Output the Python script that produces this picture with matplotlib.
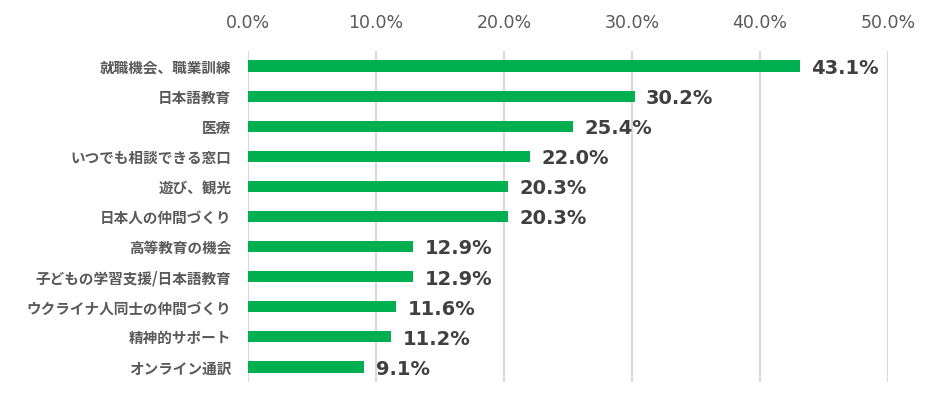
import matplotlib.pyplot as plt
from matplotlib.ticker import FuncFormatter

plt.rcParams['font.family'] = ['Noto Sans CJK JP', 'DejaVu Sans']

categories = ["就職機会、職業訓練", "日本語教育", "医療", "いつでも相談できる窓口", "遊び、観光",
              "日本人の仲間づくり", "高等教育の機会", "子どもの学習支援/日本語教育",
              "ウクライナ人同士の仲間づくり", "精神的サポート", "オンライン通訳"]
values = [43.1, 30.2, 25.4, 22.0, 20.3, 20.3, 12.9, 12.9, 11.6, 11.2, 9.1]
xticks = [0, 10, 20, 30, 40, 50]

fig = plt.figure(figsize=(9.41, 4.05), dpi=100)
ax = fig.add_axes([248 / 941, 23 / 405, 640 / 941, 331 / 405])

y = list(range(len(categories)))
ax.barh(y, values, height=0.37, color="#00B050", zorder=3)
ax.set_ylim(len(categories) - 0.5, -0.5)
ax.set_xlim(0, 50)
ax.set_xticks(xticks)
ax.xaxis.set_major_formatter(FuncFormatter(lambda v, p: f"{v:.1f}%"))
ax.xaxis.tick_top()
ax.tick_params(axis="x", length=0, pad=14, labelsize=12.5, labelcolor="#595959")
for lbl in ax.get_xticklabels():
    lbl.set_family(["DejaVu Sans"])
ax.tick_params(axis="y", length=0, pad=12)
ax.set_yticks(y)
ax.set_yticklabels(categories, fontsize=10.5, fontweight="bold", color="#595959")
ax.grid(axis="x", color="#D9D9D9", linewidth=1.5, zorder=0)
for s in ax.spines.values():
    s.set_visible(False)

for yi, v in zip(y, values):
    ax.text(v + 0.9, yi + 0.08, f"{v:.1f}%", va="center", ha="left", fontsize=14,
            fontweight="bold", color="#404040", family=["DejaVu Sans"])

fig.savefig("out.png", dpi=100)
